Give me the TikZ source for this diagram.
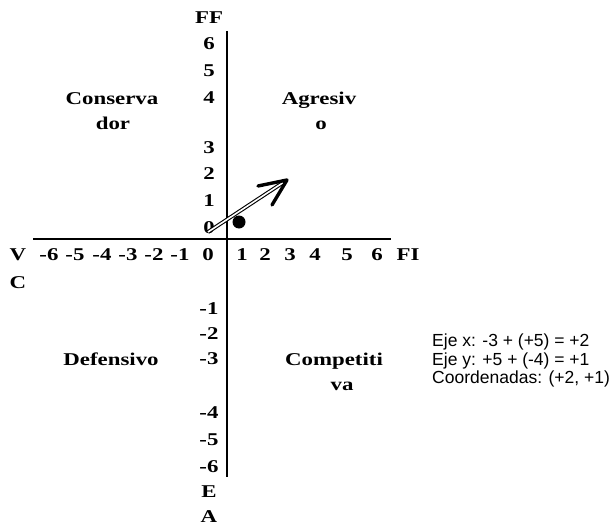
\documentclass[tikz,border=0pt]{standalone}
\usepackage{fontspec}
\setmainfont{Liberation Serif}[FakeStretch=1.27]
\newfontfamily\notesfont{Liberation Sans}
\begin{document}
\begin{tikzpicture}[x=1pt,y=-1pt,
  lbl/.style={font=\fontsize{18}{20}\selectfont\bfseries, anchor=base, inner sep=0pt},
  note/.style={font=\notesfont\fontsize{17.5}{19}\selectfont, anchor=base west, inner sep=0pt},
  axisline/.style={line width=2pt}]
\useasboundingbox (0,0) rectangle (610,527);
% axes
\coordinate (ytop) at (227,31);
\coordinate (ybot) at (227,477);
\coordinate (xl) at (33,239);
\coordinate (xr) at (391,239);
\draw[axisline] (ytop) -- (ybot);
\draw[axisline] (xl) -- (xr);
% vertical axis labels
\node[lbl] (FF) at (209,24) {FF};
\node[lbl] (y6) at (209,49.5) {6};
\node[lbl] (y5) at (209,76.5) {5};
\node[lbl] (y4) at (209,103.5) {4};
\node[lbl] (y3) at (209,153.5) {3};
\node[lbl] (y2) at (209,179.5) {2};
\node[lbl] (y1) at (209,206.5) {1};
\node[lbl] (y0) at (209,233.5) {0};
\node[lbl] (ym1) at (209,314.5) {-1};
\node[lbl] (ym2) at (209,339.5) {-2};
\node[lbl] (ym3) at (209,364.5) {-3};
\node[lbl] (ym4) at (209,418.5) {-4};
\node[lbl] (ym5) at (209,445.5) {-5};
\node[lbl] (ym6) at (209,472.5) {-6};
\node[lbl] (E) at (209,497.5) {E};
\node[lbl] (A) at (209,522.5) {A};
% horizontal axis labels
\node[lbl] (V) at (18,260.5) {V};
\node[lbl] (C) at (18,288) {C};
\node[lbl] (xm6) at (49,260.5) {-6};
\node[lbl] (xm5) at (75,260.5) {-5};
\node[lbl] (xm4) at (102,260.5) {-4};
\node[lbl] (xm3) at (128,260.5) {-3};
\node[lbl] (xm2) at (154,260.5) {-2};
\node[lbl] (xm1) at (180,260.5) {-1};
\node[lbl] (x0) at (208,260.5) {0};
\node[lbl] (x1) at (242,260.5) {1};
\node[lbl] (x2) at (265,260.5) {2};
\node[lbl] (x3) at (290,260.5) {3};
\node[lbl] (x4) at (315,260.5) {4};
\node[lbl] (x5) at (347,260.5) {5};
\node[lbl] (x6) at (377,260.5) {6};
\node[lbl] (FI) at (408,260.5) {FI};
% quadrant labels
\node[lbl] (cons1) at (112,104) {Conserva};
\node[lbl] (cons2) at (113,129) {dor};
\node[lbl] (agr1) at (319,104) {Agresiv};
\node[lbl] (agr2) at (321,129) {o};
\node[lbl] (def) at (111,365) {Defensivo};
\node[lbl] (comp1) at (334,365) {Competiti};
\node[lbl] (comp2) at (342,390) {va};
% notes
\node[note] (n1) at (432,346) {Eje x: -3 + (+5) = +2};
\node[note] (n2) at (432,365) {Eje y: +5 + (-4) = +1};
\node[note] (n3) at (432,383) {Coordenadas: (+2, +1)};
% point and arrow
\fill (239,222) circle (6.5);
\coordinate (as) at (208,232);
\coordinate (ae) at (284,182);
\coordinate (tip) at (287,180);
\coordinate (hl) at (258,186);
\coordinate (hb) at (272,205);
\draw[double=white, double distance=1.6pt, line width=1.1pt] (as) -- (ae);
\draw[line width=3.4pt, line cap=round, line join=round] (hl) -- (tip) -- (hb);
\end{tikzpicture}
\end{document}
